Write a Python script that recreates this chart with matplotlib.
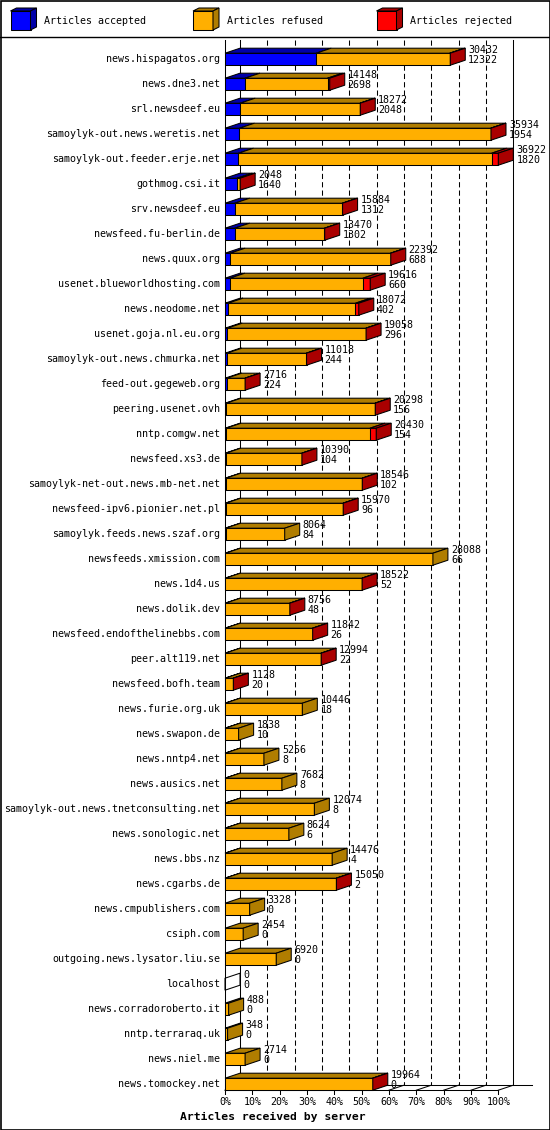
import matplotlib
matplotlib.use('Agg')
import matplotlib.pyplot as plt
from matplotlib.patches import Polygon, Rectangle

servers = [
    'news.hispagatos.org', 'news.dne3.net', 'srl.newsdeef.eu',
    'samoylyk-out.news.weretis.net', 'samoylyk-out.feeder.erje.net',
    'gothmog.csi.it', 'srv.newsdeef.eu', 'newsfeed.fu-berlin.de',
    'news.quux.org', 'usenet.blueworldhosting.com', 'news.neodome.net',
    'usenet.goja.nl.eu.org', 'samoylyk-out.news.chmurka.net',
    'feed-out.gegeweb.org', 'peering.usenet.ovh', 'nntp.comgw.net',
    'newsfeed.xs3.de', 'samoylyk-net-out.news.mb-net.net',
    'newsfeed-ipv6.pionier.net.pl', 'samoylyk.feeds.news.szaf.org',
    'newsfeeds.xmission.com', 'news.1d4.us', 'news.dolik.dev',
    'newsfeed.endofthelinebbs.com', 'peer.alt119.net', 'newsfeed.bofh.team',
    'news.furie.org.uk', 'news.swapon.de', 'news.nntp4.net',
    'news.ausics.net', 'samoylyk-out.news.tnetconsulting.net',
    'news.sonologic.net', 'news.bbs.nz', 'news.cgarbs.de',
    'news.cmpublishers.com', 'csiph.com', 'outgoing.news.lysator.liu.se',
    'localhost', 'news.corradoroberto.it', 'nntp.terraraq.uk',
    'news.niel.me', 'news.tomockey.net',
]
offered = [30432, 14148, 18272, 35934, 36922, 2048, 15884, 13470, 22392,
           19616, 18072, 19058, 11018, 2716, 20298, 20430, 10390, 18546,
           15970, 8064, 28088, 18522, 8756, 11842, 12994, 1128, 10446, 1838,
           5256, 7682, 12074, 8624, 14476, 15050, 3328, 2454, 6920, 0, 488,
           348, 2714, 19964]
accepted = [12322, 2698, 2048, 1954, 1820, 1640, 1312, 1302, 688, 660, 402,
            296, 244, 224, 156, 154, 104, 102, 96, 84, 66, 52, 48, 26, 22,
            20, 18, 10, 8, 8, 8, 6, 4, 2, 0, 0, 0, 0, 0, 0, 0, 0]
# rejected counts are not printed, estimated from the red parts
rejected = [80, 300, 40, 40, 900, 10, 30, 30, 30, 1000, 450, 30, 30, 20,
            30, 850, 20, 20, 20, 0, 0, 20, 20, 20, 20, 20, 0, 0, 0, 0, 0, 0,
            0, 20, 0, 0, 0, 0, 0, 0, 0, 20]
pct_ticks = list(range(0, 101, 10))
legend_labels = ['Articles accepted', 'Articles refused', 'Articles rejected']

front_col = ['#0000ff', '#ffaf00', '#ff0000']
dark_col = ['#0000a8', '#b07d00', '#aa0000']

W, H, DPI = 550, 1130, 100
PX_X = 2.733      # pixels per percent
PX_Y = 25.0       # pixels per row
X0_PX, Y0_PX = 225, 59.2
LW = 0.75
FONT = 'DejaVu Sans Mono'

fig = plt.figure(figsize=(W / DPI, H / DPI), dpi=DPI)
ax = fig.add_axes([0, 0, 1, 1])
ax.set_xlim(-X0_PX / PX_X, (W - X0_PX) / PX_X)
ax.set_ylim((H - Y0_PX) / PX_Y, -Y0_PX / PX_Y)
ax.axis('off')

DX = 15 / PX_X
DY = 5 / PX_Y
HB = 6 / PX_Y
n = len(servers)
floor_f = (n - 1) + HB
floor_b = floor_f - DY
top_y = (40 - Y0_PX) / PX_Y

# back wall / grid
for p in pct_ticks:
    xb = p + DX
    if p in (0, 100):
        ax.plot([xb, xb], [top_y, floor_b], color='k', lw=LW, zorder=1)
    else:
        ax.plot([xb, xb], [top_y, floor_b], color='k', lw=LW,
                ls=(0, (5, 3)), zorder=1)
    ax.plot([p, xb], [floor_f, floor_b], color='k', lw=LW, zorder=1)
    ax.plot([p, p], [floor_f, floor_f + 4 / PX_Y], color='k', lw=LW, zorder=1)
    ax.text(p, floor_f + 11.5 / PX_Y, f'{p}%', ha='center', va='center',
            fontsize=7.2, family=FONT)
ax.plot([DX, 100 + DX + 6.7], [floor_b, floor_b], color='k', lw=LW, zorder=1)
ax.plot([0, 100], [floor_f, floor_f], color='k', lw=LW, zorder=1)
ax.plot([0, 0], [top_y, floor_f], color='k', lw=LW, zorder=1)

maxv = max(offered)
for i, name in enumerate(servers):
    ref = offered[i] - accepted[i] - rejected[i]
    vals = [accepted[i], ref, rejected[i]]
    yt, yb = i - HB, i + HB
    x0 = 0.0
    last = None
    for k, v in enumerate(vals):
        if v <= 0:
            continue
        x1 = x0 + v / maxv * 100
        ax.add_patch(Rectangle((x0, yt), x1 - x0, 2 * HB, fc=front_col[k],
                               ec='k', lw=LW, zorder=3))
        ax.add_patch(Polygon([(x0, yt), (x1, yt), (x1 + DX, yt - DY),
                              (x0 + DX, yt - DY)], closed=True,
                             fc=dark_col[k], ec='k', lw=LW, zorder=3))
        x0 = x1
        last = k
    ax.add_patch(Polygon([(x0, yb), (x0, yt), (x0 + DX, yt - DY),
                          (x0 + DX, yb - DY)], closed=True,
                         fc=dark_col[last] if last is not None else 'none',
                         ec='k', lw=LW, zorder=3))
    ax.text(-5 / PX_X, i, name, ha='right', va='center', fontsize=7.2,
            family=FONT)
    tx = x0 + DX + 3 / PX_X
    ax.text(tx, i - 9.5 / PX_Y, str(offered[i]), ha='left', va='center',
            fontsize=7.2, family=FONT, zorder=4)
    ax.text(tx, i + 1 / PX_Y, str(accepted[i]), ha='left', va='center',
            fontsize=7.2, family=FONT, zorder=4)

fig.text(273 / W, 1 - 1116.7 / H, 'Articles received by server', ha='center',
         va='center', fontsize=8.2, family=FONT, weight='bold')

# legend strip
lax = fig.add_axes([0, 1 - 37 / H, 1, 37 / H])
lax.set_xlim(0, W)
lax.set_ylim(37, 0)
lax.axis('off')
lax.plot([0, W], [36.5, 36.5], color='k', lw=1, clip_on=False)
for k, (lx, lab) in enumerate(zip([10.5, 193, 376.5], legend_labels)):
    fx0, fx1, fy0, fy1 = lx, lx + 20, 11, 30
    lax.add_patch(Rectangle((fx0, fy0), fx1 - fx0, fy1 - fy0,
                            fc=front_col[k], ec='k', lw=LW))
    lax.add_patch(Polygon([(fx0, fy0), (fx1, fy0), (fx1 + 6, fy0 - 3),
                           (fx0 + 6, fy0 - 3)], fc=dark_col[k], ec='k', lw=LW))
    lax.add_patch(Polygon([(fx1, fy1), (fx1, fy0), (fx1 + 6, fy0 - 3),
                           (fx1 + 6, fy1 - 3)], fc=dark_col[k], ec='k', lw=LW))
    lax.text(lx + 34, 21, lab, ha='left', va='center', fontsize=7.2,
             family=FONT)

fig.patches.append(Rectangle((0.5 / W, 0.5 / H), 1 - 1 / W, 1 - 1 / H,
                             transform=fig.transFigure, fill=False, ec='k',
                             lw=1.2))

fig.savefig('out.png', dpi=DPI, facecolor='white')
